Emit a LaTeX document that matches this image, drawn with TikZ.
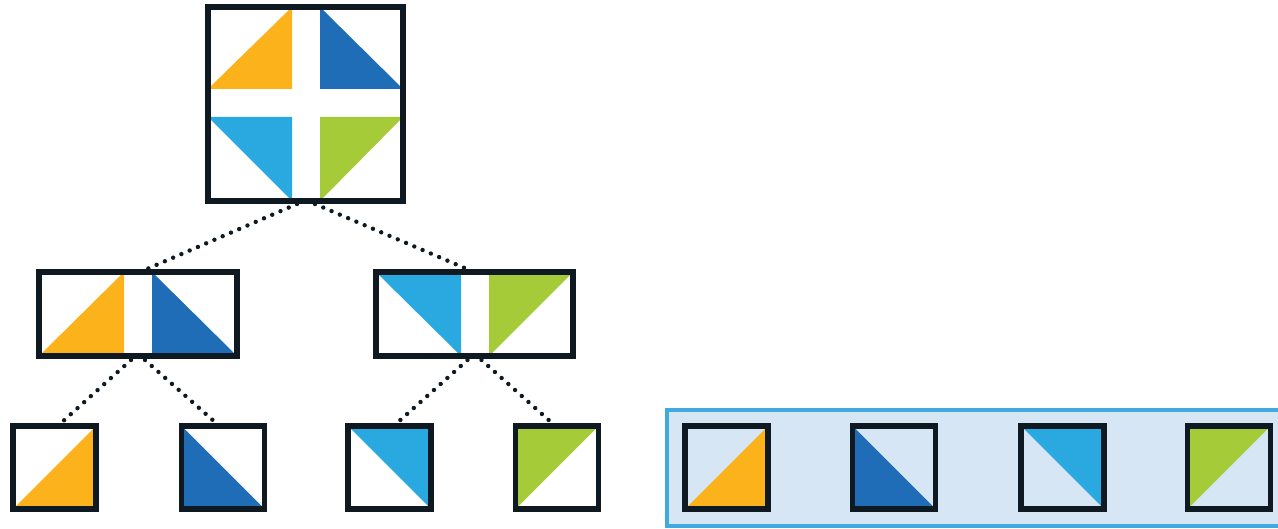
\documentclass[tikz,border=0pt]{standalone}
\usetikzlibrary{calc}
\definecolor{qorange}{HTML}{FBB21B}
\definecolor{qdark}{HTML}{1F6DB6}
\definecolor{qlight}{HTML}{2AA9E1}
\definecolor{qgreen}{HTML}{A6CB38}
\definecolor{qframe}{HTML}{0F1922}
\definecolor{trayfill}{HTML}{D7E6F4}
\definecolor{trayline}{HTML}{3EAADF}
% right-angled half of a leaf square centred at x=#1
\newcommand\leafBR[2]{\fill[#2] ({#1-41.5},509) -- ({#1+41.5},509) -- ({#1+41.5},426) -- cycle;}
\newcommand\leafBL[2]{\fill[#2] ({#1-41.5},426) -- ({#1-41.5},509) -- ({#1+41.5},509) -- cycle;}
\newcommand\leafTR[2]{\fill[#2] ({#1-41.5},426) -- ({#1+41.5},426) -- ({#1+41.5},509) -- cycle;}
\newcommand\leafTL[2]{\fill[#2] ({#1-41.5},426) -- ({#1+41.5},426) -- ({#1-41.5},509) -- cycle;}
\tikzset{
  frame/.style={draw=qframe, line width=5.2pt, rectangle, outer sep=0pt, inner sep=0pt},
  leafbox/.style={frame, minimum width=83pt, minimum height=83pt},
  dotline/.style={draw=qframe, line width=4.4pt, line cap=round, dash pattern=on 0pt off 9pt}
}
\begin{document}
\begin{tikzpicture}[x=1pt,y=-1pt]
\useasboundingbox (0,0) rectangle (1278,529);
\fill[white] (0,0) rectangle (1278,529);

% tray behind the right-hand row
\fill[trayfill] (667,410) rectangle (1278,526);
\draw[trayline, line width=3.2pt] (1279,410) -- (667,410) -- (667,526) -- (1279,526);

% root quadrants
\fill[qorange] (208,89) -- (292,89) -- (292,7) -- cycle;
\fill[qdark] (320,7) -- (320,89) -- (403,89) -- cycle;
\fill[qlight] (208,117) -- (292,117) -- (292,201) -- cycle;
\fill[qgreen] (320,117) -- (403,117) -- (320,201) -- cycle;

% middle halves
\fill[qorange] (39,356) -- (124,356) -- (124,272) -- cycle;
\fill[qdark] (152,272) -- (152,356) -- (237,356) -- cycle;
\fill[qlight] (376,272) -- (461,272) -- (461,356) -- cycle;
\fill[qgreen] (489,272) -- (573,272) -- (489,356) -- cycle;

% leaves of the tree
\leafBR{54.5}{qorange}
\leafBL{223}{qdark}
\leafTR{389.5}{qlight}
\leafTL{557}{qgreen}
% leaves in the tray
\leafBR{726.5}{qorange}
\leafBL{894}{qdark}
\leafTR{1062.5}{qlight}
\leafTL{1229}{qgreen}

% frames
\node[frame, minimum width=195pt, minimum height=194pt] (root) at (305.5,104) {};
\node[frame, minimum width=198pt, minimum height=84pt] (midL) at (138,314) {};
\node[frame, minimum width=197pt, minimum height=84pt] (midR) at (474.5,314) {};
\node[leafbox] (a1) at (54.5,467.5) {};
\node[leafbox] (a2) at (223,467.5) {};
\node[leafbox] (a3) at (389.5,467.5) {};
\node[leafbox] (a4) at (557,467.5) {};
\node[leafbox] (t1) at (726.5,467.5) {};
\node[leafbox] (t2) at (894,467.5) {};
\node[leafbox] (t3) at (1062.5,467.5) {};
\node[leafbox] (t4) at (1229,467.5) {};

% dotted links
\draw[dotline] ([xshift=-8.5pt,yshift=-3pt]root.south) -- ([xshift=9pt,yshift=3pt]midL.north);
\draw[dotline] ([xshift=9.5pt,yshift=-3pt]root.south) -- ([xshift=-7.5pt,yshift=3pt]midR.north);
\draw[dotline] ([xshift=-7pt,yshift=-4pt]midL.south) -- ([xshift=6.5pt,yshift=3pt]a1.north);
\draw[dotline] ([xshift=7pt,yshift=-4pt]midL.south) -- ([xshift=-7pt,yshift=3pt]a2.north);
\draw[dotline] ([xshift=-7pt,yshift=-4pt]midR.south) -- ([xshift=7.5pt,yshift=3pt]a3.north);
\draw[dotline] ([xshift=7pt,yshift=-4pt]midR.south) -- ([xshift=-5pt,yshift=3pt]a4.north);
\end{tikzpicture}
\end{document}
